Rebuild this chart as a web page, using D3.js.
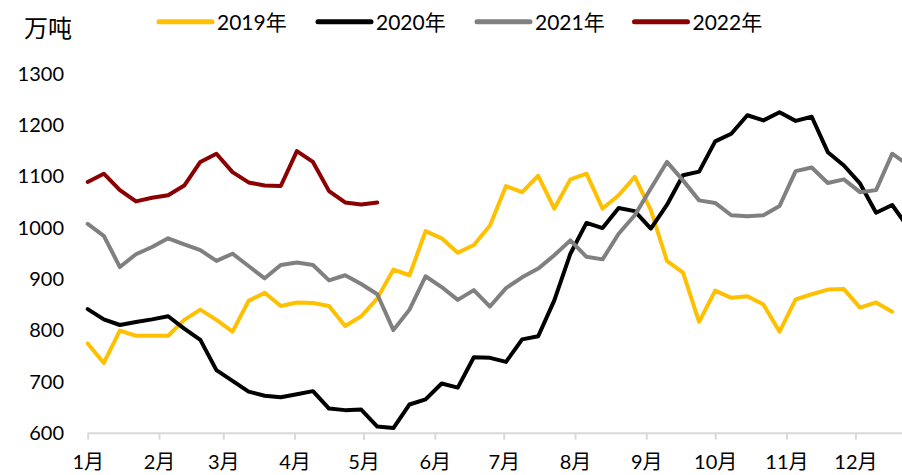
<!DOCTYPE html>
<html>
<head>
<meta charset="utf-8">
<script src="https://cdn.jsdelivr.net/npm/d3@7/dist/d3.min.js"></script>
<style>
  html, body { margin: 0; padding: 0; background: #fff; }
  svg { display: block; }
  text { font-family: Lato, "Noto Sans CJK SC", sans-serif; fill: #000; }
</style>
</head>
<body>
<svg id="chart" width="902" height="475"></svg>
<script>
// Weekly readings, week 1 starting 1 January
const years = ["2019年", "2020年", "2021年", "2022年"];
const colors = ["#FFC000", "#000000", "#808080", "#8B0000"];

const v2019 = [774, 736, 799, 789, 789, 789, 820, 840, 820, 797, 857, 873, 847, 854, 853, 847, 808, 827, 862, 918,
  907, 993, 979, 951, 966, 1004, 1081, 1069, 1101, 1037, 1094, 1105, 1037, 1063, 1099, 1034, 935, 912, 816, 877,
  863, 866, 850, 797, 860, 870, 879, 880, 844, 854, 836];
const v2020 = [841, 821, 810, 816, 821, 827, 803, 781, 722, 701, 680, 672, 669, 675, 681, 647, 644, 645, 612, 609,
  655, 665, 696, 688, 747, 746, 738, 782, 788, 858, 949, 1009, 999, 1038, 1032, 998, 1044, 1102, 1109, 1168,
  1183, 1219, 1209, 1225, 1208, 1216, 1147, 1121, 1086, 1029, 1044, 1000];
const v2021 = [1007, 984, 923, 948, 962, 979, 967, 956, 935, 949, 925, 901, 927, 932, 927, 897, 907, 890, 870, 800,
  840, 905, 884, 859, 878, 846, 882, 903, 920, 946, 975, 943, 938, 988, 1024, 1076, 1128, 1092, 1053, 1048,
  1024, 1022, 1024, 1042, 1110, 1117, 1087, 1094, 1069, 1073, 1144, 1122];
const v2022 = [1089, 1105, 1073, 1051, 1058, 1063, 1082, 1128, 1144, 1108, 1088, 1082, 1081, 1149, 1128, 1071,
  1049, 1045, 1049];

const yTicks = [600, 700, 800, 900, 1000, 1100, 1200, 1300];
const seriesValues = [v2019, v2020, v2021, v2022];

const svg = d3.select("#chart");
const W = 902, H = 475;

// Calendar x-axis over one (non-leap) year; plot runs past the right edge
const yearStart = new Date(2019, 0, 1);
const yearEnd = new Date(2019, 11, 31);
const x = d3.scaleTime().domain([yearStart, yearEnd]).range([87.7, 87.7 + 364 * 2.2985]);
const y = d3.scaleLinear().domain([600, 1300]).range([432.7, 73.7]);

const weekDate = i => d3.timeDay.offset(yearStart, 7 * i);

svg.append("defs").append("clipPath").attr("id", "plot")
  .append("rect").attr("x", 0).attr("y", 0).attr("width", W).attr("height", H);

// Y labels (no gridlines)
svg.append("g").selectAll("text").data(yTicks).join("text")
  .attr("x", 64).attr("y", d => y(d) + 7.2)
  .attr("text-anchor", "end")
  .style("font-size", "20px")
  .text(d => d);

// Unit label
svg.append("text").attr("x", 24).attr("y", 37)
  .style("font-size", "24px").text("万吨");

// X axis
const xAxis = d3.axisBottom(x)
  .ticks(d3.timeMonth.every(1))
  .tickFormat(d => (d.getMonth() + 1) + "月")
  .tickSizeInner(7).tickSizeOuter(0).tickPadding(15);
const gx = svg.append("g").attr("transform", `translate(0,${y(600)})`).call(xAxis);
gx.select(".domain").attr("stroke", "#D9D9D9").attr("stroke-width", 2);
gx.selectAll(".tick line").attr("stroke", "#D9D9D9").attr("stroke-width", 2);
gx.selectAll(".tick text").style("font-size", "20px").attr("fill", "#000")
  .style("font-family", 'Lato, "Noto Sans CJK SC", sans-serif');

// Series lines
const line = d3.line().x((d, i) => x(weekDate(i))).y(d => y(d));
svg.append("g").attr("clip-path", "url(#plot)")
  .selectAll("path").data(seriesValues).join("path")
  .attr("d", d => line(d))
  .attr("fill", "none")
  .attr("stroke", (d, i) => colors[i])
  .attr("stroke-width", 4)
  .attr("stroke-linejoin", "round")
  .attr("stroke-linecap", "round");

// Legend
const legendX = [159, 318, 477, 634.5];
const lg = svg.append("g").selectAll("g").data(years).join("g")
  .attr("transform", (d, i) => `translate(${legendX[i]},21.7)`);
lg.append("line").attr("x1", 0).attr("x2", 53).attr("y1", 0).attr("y2", 0)
  .attr("stroke", (d, i) => colors[i]).attr("stroke-width", 5).attr("stroke-linecap", "round");
lg.append("text").attr("x", 58).attr("y", 7.8)
  .style("font-size", "21px").text(d => d);
</script>
</body>
</html>
